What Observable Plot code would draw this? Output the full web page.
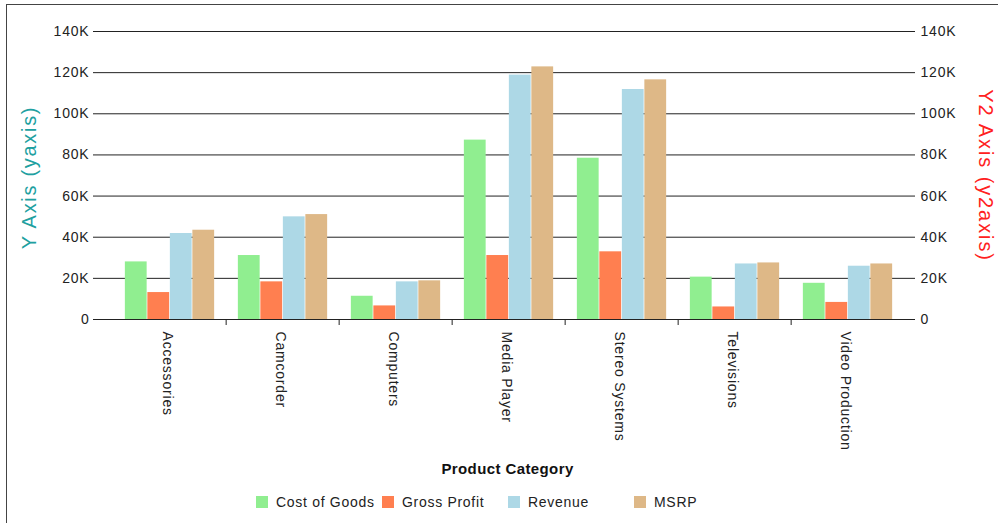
<!DOCTYPE html>
<html>
<head>
<meta charset="utf-8">
<script src="https://cdn.jsdelivr.net/npm/d3@7"></script>
<script src="https://cdn.jsdelivr.net/npm/@observablehq/plot@0.6"></script>
<style>
  html, body { margin: 0; padding: 0; background: #fff; overflow: hidden; }
  body { width: 998px; height: 523px; position: relative; font-family: Arial, "Liberation Sans", sans-serif; }
  #frame { position: absolute; left: 6px; top: 4px; width: 1100px; height: 600px; border-left: 1px solid #444; border-top: 1px solid #444; }
  #chart { position: absolute; left: 0; top: 0; }
  #chart svg g[aria-label$="tick label"] text { letter-spacing: 0.8px; }
  #legend { position: absolute; left: 256px; top: 494px; display: flex; font-size: 14px; color: #222; letter-spacing: 0.7px; }
  .item { display: flex; align-items: center; width: 126px; }
  .sw { width: 12px; height: 12px; margin-right: 8px; }
</style>
</head>
<body>
<div id="frame"></div>
<div id="chart"></div>
<div id="legend"></div>
<script>
const categories = ["Accessories", "Camcorder", "Computers", "Media Player", "Stereo Systems", "Televisions", "Video Production"];
const seriesNames = ["Cost of Goods", "Gross Profit", "Revenue", "MSRP"];
const seriesColors = ["#90EE90", "#FF7F50", "#ADD8E6", "#DEB887"];
const costOfGoods = [28000, 31100, 11300, 87200, 78400, 20600, 17600];
const grossProfit = [13100, 18300, 6600, 31100, 32900, 6100, 8300];
const revenue = [41800, 49900, 18300, 118800, 111800, 27000, 25900];
const msrp = [43400, 51000, 18800, 122800, 116500, 27500, 27000];
const yTicks = [0, 20000, 40000, 60000, 80000, 100000, 120000, 140000];
const yTitle = "Y Axis (yaxis)";
const y2Title = "Y2 Axis (y2axis)";
const xTitle = "Product Category";

const seriesValues = [costOfGoods, grossProfit, revenue, msrp];
const rows = categories.map((c, i) => {
  const r = {category: c};
  seriesNames.forEach((s, j) => r[s] = seriesValues[j][i]);
  return r;
});

const W = 998, H = 483;
const xRange = [110, 906];
const step = (xRange[1] - xRange[0]) / categories.length;
const barW = 22.5;
const groupOff = (step - barW * seriesNames.length) / 2;
const fmt = d => d === 0 ? "0" : (d / 1000) + "K";

const barMarks = seriesNames.map((s, j) => Plot.barY(rows, {
  x: "category",
  y: s,
  fill: seriesColors[j],
  insetLeft: groupOff + barW * j,
  insetRight: step - groupOff - barW * (j + 1)
}));

const chart = Plot.plot({
  width: W,
  height: H,
  marginLeft: 93,
  marginRight: 83,
  marginTop: 31,
  marginBottom: 164,
  style: {fontFamily: "Arial, 'Liberation Sans', sans-serif", fontSize: "14px", color: "#222", background: "transparent"},
  x: {domain: categories, range: xRange, padding: 0},
  y: {domain: [0, 140000], ticks: yTicks},
  marks: [
    Plot.ruleY(yTicks, {stroke: "#222", strokeWidth: 1}),
    ...barMarks,
    Plot.axisY({anchor: "left", ticks: yTicks, tickSize: 0, tickPadding: 4, tickFormat: fmt, label: null, fontSize: 14}),
    Plot.axisY({anchor: "right", ticks: yTicks, tickSize: 0, tickPadding: 5, tickFormat: fmt, label: null, fontSize: 14}),
    Plot.axisX({ticks: categories.slice(1), tickSize: 6, tickFormat: () => "", dx: -step / 2, label: null, stroke: "#222"}),
    Plot.axisX({tickSize: 0, tickPadding: 12, tickRotate: 90, textAnchor: "start", dx: -3, label: null, fontSize: 14}),
    Plot.text([yTitle], {frameAnchor: "left", textAnchor: "middle", lineAnchor: "middle", rotate: -90, dx: -64, dy: 2, fill: "#20A0A0", fontSize: 20}),
    Plot.text([y2Title], {frameAnchor: "right", textAnchor: "middle", lineAnchor: "middle", rotate: 90, dx: 70, fill: "#FF2020", fontSize: 20}),
    Plot.text([xTitle], {frameAnchor: "bottom", dx: 3, dy: 154, fontWeight: "bold", fontSize: 15, fill: "#111"})
  ]
});
const spacing = {[yTitle]: "1.7px", [y2Title]: "1.9px", [xTitle]: "0.4px"};
d3.select(chart).selectAll("text").each(function() {
  const s = spacing[this.textContent];
  if (s) this.style.letterSpacing = s;
});
document.getElementById("chart").appendChild(chart);

const legend = document.getElementById("legend");
seriesNames.forEach((s, j) => {
  const item = document.createElement("div");
  item.className = "item";
  const sw = document.createElement("span");
  sw.className = "sw";
  sw.style.background = seriesColors[j];
  const t = document.createElement("span");
  t.textContent = s;
  item.appendChild(sw);
  item.appendChild(t);
  legend.appendChild(item);
});
</script>
</body>
</html>
